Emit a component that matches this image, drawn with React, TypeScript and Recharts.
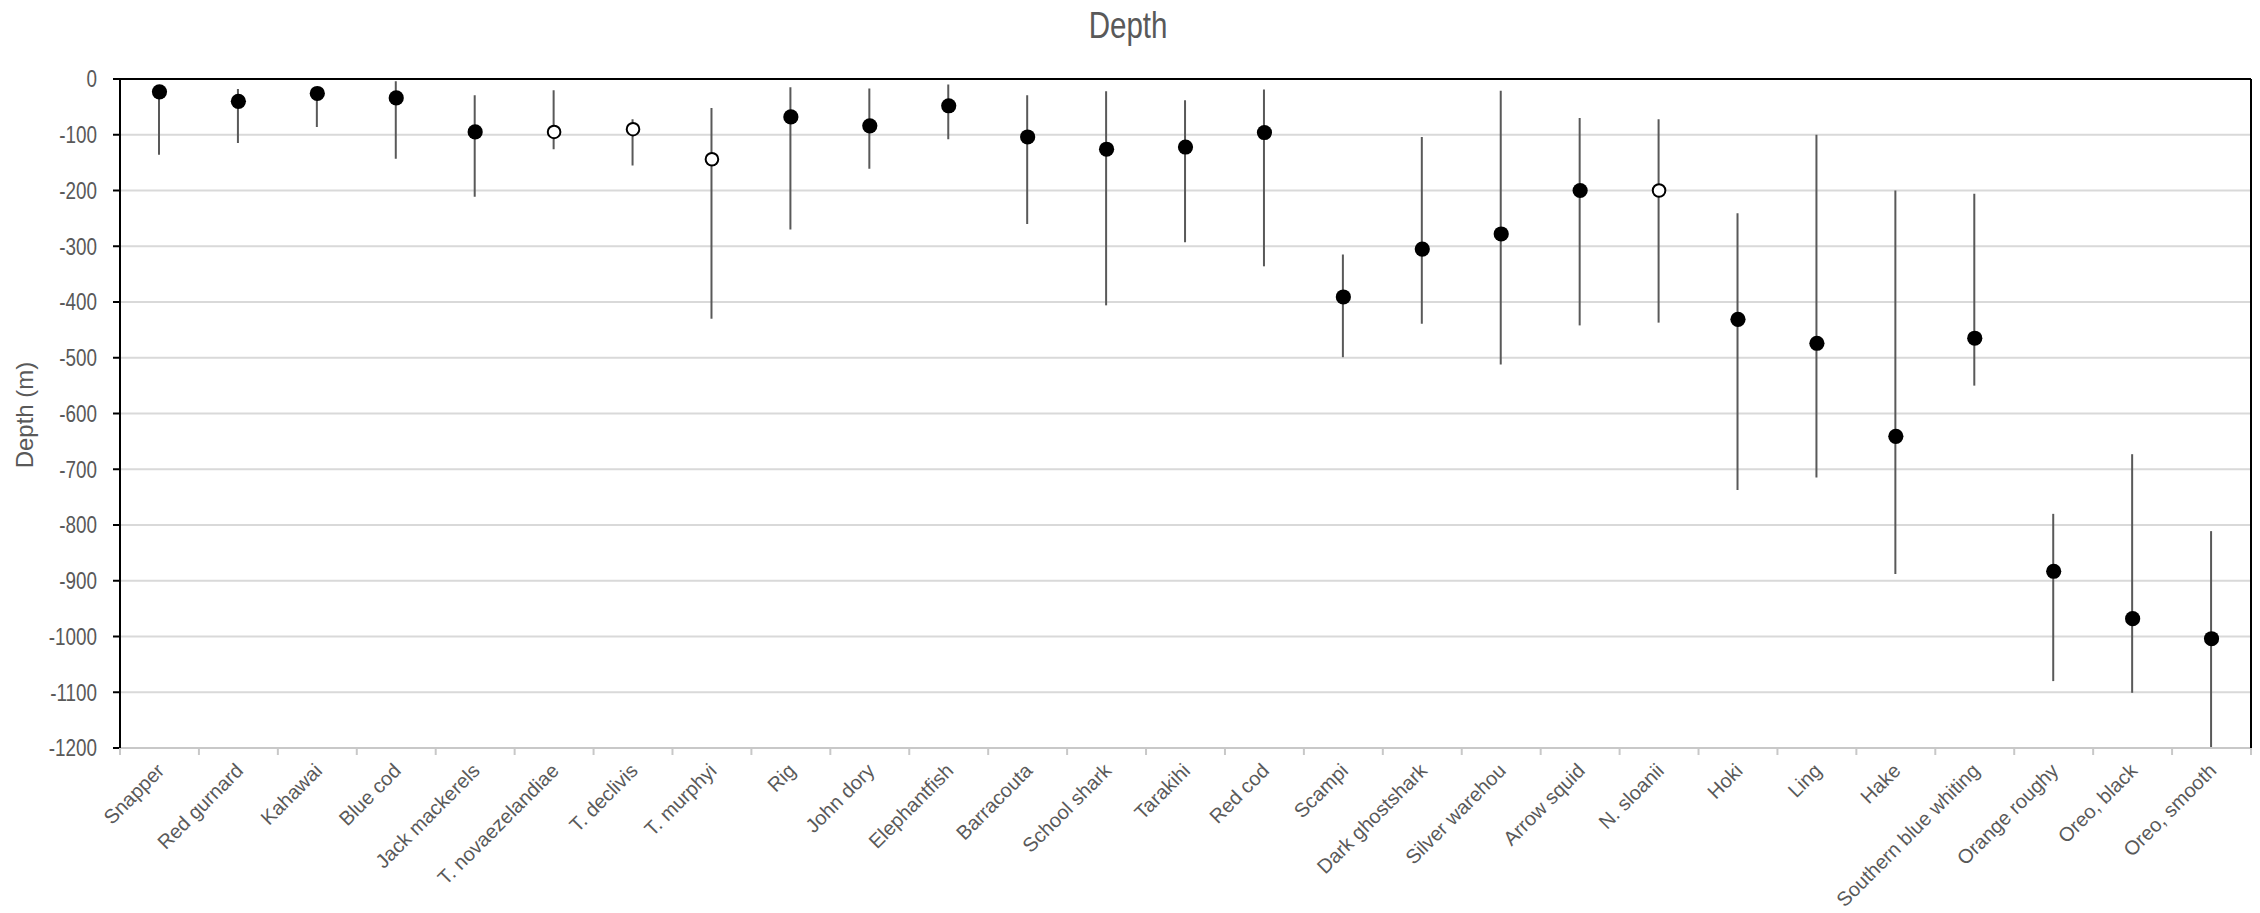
import React from "react";
import { ComposedChart, Bar, Line, XAxis, YAxis, CartesianGrid, ReferenceLine } from "recharts";

const species = [
  "Snapper", "Red gurnard", "Kahawai", "Blue cod", "Jack mackerels", "T. novaezelandiae",
  "T. declivis", "T. murphyi", "Rig", "John dory", "Elephantfish", "Barracouta",
  "School shark", "Tarakihi", "Red cod", "Scampi", "Dark ghostshark", "Silver warehou",
  "Arrow squid", "N. sloanii", "Hoki", "Ling", "Hake", "Southern blue whiting",
  "Orange roughy", "Oreo, black", "Oreo, smooth",
];
const meanDepth = [
  -23, -40, -26, -34, -95, -95, -90, -144, -68, -84, -48, -104, -126, -122, -96,
  -391, -305, -278, -200, -200, -431, -474, -641, -465, -883, -968, -1004,
];
const shallowDepth = [
  -15, -18, -15, -4, -29, -20, -72, -52, -15, -17, -10, -29, -22, -38, -19,
  -315, -104, -21, -70, -72, -241, -100, -200, -206, -780, -673, -811,
];
const deepDepth = [
  -136, -115, -86, -143, -211, -126, -155, -430, -270, -161, -108, -260, -406, -293, -336,
  -499, -439, -512, -442, -437, -737, -715, -888, -550, -1080, -1101, -1200,
];
const openMarker = [
  false, false, false, false, false, true, true, true, false, false, false, false, false, false, false,
  false, false, false, false, true, false, false, false, false, false, false, false,
];
const yTicks = [0, -100, -200, -300, -400, -500, -600, -700, -800, -900, -1000, -1100, -1200];

const data = species.map((name, i) => ({
  name,
  mean: meanDepth[i],
  range: [deepDepth[i], shallowDepth[i]],
  open: openMarker[i],
}));

const W = 2260;
const H = 913;
const MARGIN = { top: 79, right: 8, left: 0, bottom: 0 };
const Y_AXIS_W = 120;
const RIGHT_AXIS_W = 1;
const X_AXIS_H = 165;
const PLOT_W = W - MARGIN.left - MARGIN.right - Y_AXIS_W - RIGHT_AXIS_W;
const BAND = PLOT_W / species.length;
const AXIS_Y = H - X_AXIS_H - MARGIN.bottom;
const TEXT_COLOR = "#595959";
const SANS = "'Liberation Sans', Arial, sans-serif";
const NARROW_SCALE = 0.82;

function XTick(props: any) {
  const { x, payload, index } = props;
  const last = index === species.length - 1;
  return (
    <g>
      <line x1={x - BAND / 2} x2={x - BAND / 2} y1={AXIS_Y} y2={AXIS_Y + 7} stroke="#c8c8c8" strokeWidth={2} />
      {last && (
        <line x1={x + BAND / 2} x2={x + BAND / 2} y1={AXIS_Y} y2={AXIS_Y + 7} stroke="#c8c8c8" strokeWidth={2} />
      )}
      <text
        x={0}
        y={0}
        transform={`translate(${x + 6},${AXIS_Y + 24}) rotate(-45)`}
        textAnchor="end"
        fontSize={20}
        fontFamily={SANS}
        fill={TEXT_COLOR}
      >
        {payload.value}
      </text>
    </g>
  );
}

function YTick(props: any) {
  const { x, y, payload } = props;
  return (
    <text
      x={0}
      y={0}
      dy="0.36em"
      transform={`translate(${x},${y}) scale(${NARROW_SCALE},1)`}
      textAnchor="end"
      fontSize={23}
      fontFamily={SANS}
      fill={TEXT_COLOR}
    >
      {payload.value}
    </text>
  );
}

function renderDot(props: any) {
  const { cx, cy, payload, index } = props;
  if (cx == null || cy == null) return <g key={`d-${index}`} />;
  if (payload.open) {
    return <circle key={`d-${index}`} cx={cx} cy={cy} r={6.3} fill="#ffffff" stroke="#000000" strokeWidth={2} />;
  }
  return <circle key={`d-${index}`} cx={cx} cy={cy} r={7.6} fill="#000000" stroke="none" />;
}

function renderYLabel() {
  return (
    <text
      x={33}
      y={415}
      transform="rotate(-90 33 415)"
      textAnchor="middle"
      fontSize={24}
      fontFamily={SANS}
      fill={TEXT_COLOR}
    >
      Depth (m)
    </text>
  );
}

export default function App() {
  return (
    <div style={{ position: "absolute", left: 0, top: 0, width: W, height: H, background: "#ffffff" }}>
      <div
        style={{
          position: "absolute",
          left: 0,
          top: 8,
          width: 2256,
          textAlign: "center",
          fontFamily: SANS,
          fontSize: 36,
          lineHeight: "36px",
          color: TEXT_COLOR,
        }}
      >
        <span style={{ display: "inline-block", transform: `scaleX(${NARROW_SCALE})` }}>Depth</span>
      </div>
      <ComposedChart width={W} height={H} data={data} margin={MARGIN}>
        <CartesianGrid horizontal vertical={false} stroke="#d9d9d9" strokeWidth={2} />
        <XAxis
          dataKey="name"
          interval={0}
          height={X_AXIS_H}
          tick={<XTick />}
          tickLine={false}
          axisLine={{ stroke: "#c8c8c8", strokeWidth: 2 }}
        />
        <YAxis
          yAxisId={0}
          type="number"
          domain={[-1200, 0]}
          ticks={yTicks}
          interval={0}
          width={Y_AXIS_W}
          allowDataOverflow
          tickSize={7}
          tickMargin={16}
          tickLine={{ stroke: "#000000", strokeWidth: 2 }}
          axisLine={{ stroke: "#000000", strokeWidth: 2 }}
          tick={<YTick />}
          label={renderYLabel}
        />
        <YAxis
          yAxisId="right"
          orientation="right"
          type="number"
          domain={[-1200, 0]}
          width={RIGHT_AXIS_W}
          tick={false}
          tickLine={false}
          axisLine={{ stroke: "#000000", strokeWidth: 2 }}
        />
        <ReferenceLine y={0} yAxisId={0} stroke="#000000" strokeWidth={2} />
        <Bar dataKey="range" yAxisId={0} barSize={2} fill="#595959" isAnimationActive={false} />
        <Line
          dataKey="mean"
          yAxisId={0}
          stroke="none"
          dot={renderDot}
          activeDot={false}
          isAnimationActive={false}
        />
      </ComposedChart>
    </div>
  );
}
